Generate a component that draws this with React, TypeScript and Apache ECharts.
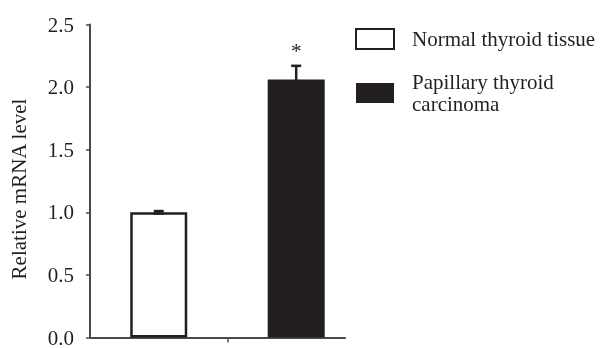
import React, { useEffect, useRef } from "react";
import * as echarts from "echarts";

const categories = ["Normal thyroid tissue", "Papillary thyroid\ncarcinoma"];
const means = [1.0, 2.06];
const errors = [0.01, 0.11];
const significance = ["", "*"];
const yTicks = [0, 0.5, 1.0, 1.5, 2.0, 2.5];
const yAxisTitle = "Relative mRNA level";
const fills = ["#ffffff", "#231f20"];

export default function App() {
  const ref = useRef<HTMLDivElement>(null);
  useEffect(() => {
    const chart = echarts.init(ref.current!, null, { renderer: "svg" });
    const font = '"Liberation Serif", "Times New Roman", serif';
    const ink = "#231f20";
    const axisColor = "#4a4a4a";
    const xs = categories.map((_, i) => i + 0.5);
    chart.setOption({
      animation: false,
      grid: { left: 90, top: 24.5, width: 255, bottom: 8, containLabel: false },
      xAxis: {
        type: "value",
        min: 0,
        max: 1.855,
        axisLine: { show: true, onZero: false, lineStyle: { color: axisColor, width: 2 } },
        axisTick: { show: true, customValues: [1], length: 5, lineStyle: { color: axisColor, width: 1.5 } },
        axisLabel: { show: false },
        splitLine: { show: false },
      },
      yAxis: {
        type: "value",
        min: yTicks[0],
        max: yTicks[yTicks.length - 1],
        interval: yTicks[1] - yTicks[0],
        name: yAxisTitle,
        nameLocation: "middle",
        nameGap: 61,
        nameTextStyle: { fontFamily: font, fontSize: 21, color: ink, padding: [0, 16, 0, 0] },
        axisLine: { show: true, lineStyle: { color: axisColor, width: 2 } },
        axisTick: { show: true, length: 4, lineStyle: { color: axisColor, width: 1.5 } },
        axisLabel: { fontFamily: font, fontSize: 21, color: ink, margin: 16, formatter: (v: number) => v.toFixed(1) },
        splitLine: { show: false },
      },
      legend: {
        orient: "vertical",
        left: 355,
        top: 26,
        padding: 0,
        itemWidth: 38,
        itemHeight: 20,
        itemGap: 17,
        icon: "rect",
        selectedMode: false,
        data: categories,
        textStyle: { fontFamily: font, fontSize: 21, color: ink, lineHeight: 22, padding: [4, 0, 0, 13] },
      },
      series: [
        ...categories.map((name, i) => ({
          type: "bar",
          name,
          barWidth: 57,
          barGap: "-100%",
          data: [[xs[i], means[i]]],
          itemStyle: { color: fills[i], borderColor: ink, borderWidth: i === 0 ? 2.5 : 0 },
        })),
        {
          type: "custom",
          z: 5,
          data: categories.map((_, i) => [xs[i], means[i], errors[i]]),
          renderItem: (params: any, api: any) => {
            const x = api.value(0);
            const m = api.value(1);
            const e = api.value(2);
            const top = api.coord([x, m + e]);
            const bot = api.coord([x, m - e]);
            const half = 5;
            const style = { stroke: ink, lineWidth: 2.5 };
            const children: any[] = [
              { type: "line", shape: { x1: top[0], y1: top[1], x2: bot[0], y2: bot[1] }, style },
              { type: "line", shape: { x1: top[0] - half, y1: top[1], x2: top[0] + half, y2: top[1] }, style },
              { type: "line", shape: { x1: bot[0] - half, y1: bot[1], x2: bot[0] + half, y2: bot[1] }, style },
            ];
            const sig = significance[params.dataIndex];
            if (sig) {
              children.push({
                type: "text",
                x: top[0],
                y: top[1] - 15,
                style: { text: sig, font: `21px ${font}`, fill: ink, align: "center", verticalAlign: "middle" },
              });
            }
            return { type: "group", children };
          },
        },
      ],
    });
    return () => chart.dispose();
  }, []);
  return <div ref={ref} style={{ position: "fixed", left: 0, top: 0, width: 603, height: 348 }} />;
}
